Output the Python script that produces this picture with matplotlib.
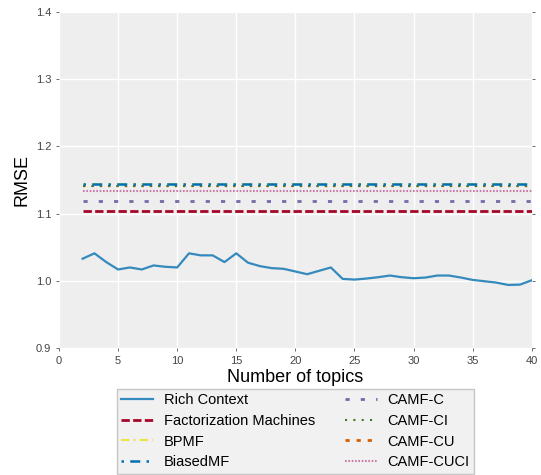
import matplotlib
matplotlib.use("Agg")
import matplotlib.pyplot as plt
from matplotlib.lines import Line2D
import numpy as np

plt.rcParams['font.family'] = ['Liberation Sans', 'DejaVu Sans']

topics = list(range(2, 41))
rich_context = [1.033, 1.041, 1.028, 1.017, 1.020, 1.017, 1.023, 1.021, 1.020, 1.041,
                1.038, 1.038, 1.028, 1.041, 1.027, 1.022, 1.019, 1.018, 1.014, 1.010,
                1.015, 1.020, 1.003, 1.002, 1.0035, 1.0055, 1.008, 1.0055, 1.004, 1.005,
                1.008, 1.008, 1.005, 1.0015, 0.9995, 0.9975, 0.994, 0.9945, 1.001]
fm = 1.1035
bpmf = 1.1435
biasedmf = 1.1435
camf_c = 1.1188
camf_ci = 1.1418
camf_cu = 1.1418
camf_cuci = 1.1342

fig = plt.figure(figsize=(5.41, 4.75), dpi=100)
ax = fig.add_axes([0.109, 0.267, 0.874, 0.708])
ax.set_facecolor('#eeeeee')
for s in ax.spines.values():
    s.set_visible(False)
ax.grid(True, color='white', linewidth=1.0)
ax.set_axisbelow(True)

n = len(topics)
st = {
    'Rich Context': dict(color='#348ABD', lw=1.6, ls='-'),
    'Factorization Machines': dict(color='#A60628', lw=2, ls=(0, (3, 1.2))),
    'BPMF': dict(color='#F0E442', lw=1.5, ls=(0, (4, 2, 1, 2))),
    'BiasedMF': dict(color='#0072B2', lw=1.8, ls=(0, (1, 2.5, 4, 2.5))),
    'CAMF-C': dict(color='#7A68A6', lw=2, ls=(0, (1.5, 4))),
    'CAMF-CI': dict(color='#467821', lw=1.5, ls=(0, (1, 3))),
    'CAMF-CU': dict(color='#D55E00', lw=2, ls=(0, (1.5, 2.5))),
    'CAMF-CUCI': dict(color='#CC79A7', lw=1.5, ls=(0, (0.8, 0.8))),
}
def kw(name):
    d = st[name]
    return dict(color=d['color'], lw=d['lw'], ls=d['ls'])

def hidden_under(top, color, shrink=0.6):
    # thinner line with identical on-screen dash pattern, fully covered by `top`
    d = st[top]
    lw = d['lw'] * shrink
    pat = tuple(v / shrink for v in d['ls'][1])
    # shorten dashes slightly so the ends are also covered
    return dict(color=color, lw=lw, ls=(0, pat))

ax.plot(topics, rich_context, zorder=5, **kw('Rich Context'))
ax.plot(topics, [fm]*n, **kw('Factorization Machines'))
# BPMF and CAMF-CU lie hidden under BiasedMF / CAMF-CI in the reference
ax.plot(topics, [bpmf]*n, zorder=1, **hidden_under('BiasedMF', st['BPMF']['color']))
ax.plot(topics, [camf_cu]*n, zorder=1, **hidden_under('CAMF-CI', st['CAMF-CU']['color']))
ax.plot(topics, [camf_ci]*n, zorder=2, **kw('CAMF-CI'))
ax.plot(topics, [biasedmf]*n, zorder=3, **kw('BiasedMF'))
ax.plot(topics, [camf_cuci]*n, **kw('CAMF-CUCI'))
ax.plot(topics, [camf_c]*n, **kw('CAMF-C'))

ax.set_xlim(0, 40)
ax.set_ylim(0.9, 1.4)
ax.set_xticks(range(0, 41, 5))
ax.set_yticks([0.9, 1.0, 1.1, 1.2, 1.3, 1.4])
ax.tick_params(axis='both', labelsize=8, colors='#555555', length=2, width=0.6,
               right=True, top=False, direction='out')
ax.tick_params(axis='both', labelcolor='#444444')
ax.set_xlabel('Number of topics', fontsize=13, labelpad=2)
ax.set_ylabel('RMSE', fontsize=13, labelpad=4)

order = ['Rich Context', 'Factorization Machines', 'BPMF', 'BiasedMF',
         'CAMF-C', 'CAMF-CI', 'CAMF-CU', 'CAMF-CUCI']
handles = [Line2D([], [], **kw(nm)) for nm in order]
leg = ax.legend(handles, order, loc='upper center', bbox_to_anchor=(0.5, -0.1),
                ncol=2, fontsize=10.5, frameon=True, fancybox=False,
                handlelength=2.2, handletextpad=0.75, columnspacing=2.0,
                borderpad=0.3, labelspacing=0.45)
leg.get_frame().set_facecolor('#eeeeee')
leg.get_frame().set_edgecolor('#bbbbbb')

fig.savefig('out.png', dpi=100)
